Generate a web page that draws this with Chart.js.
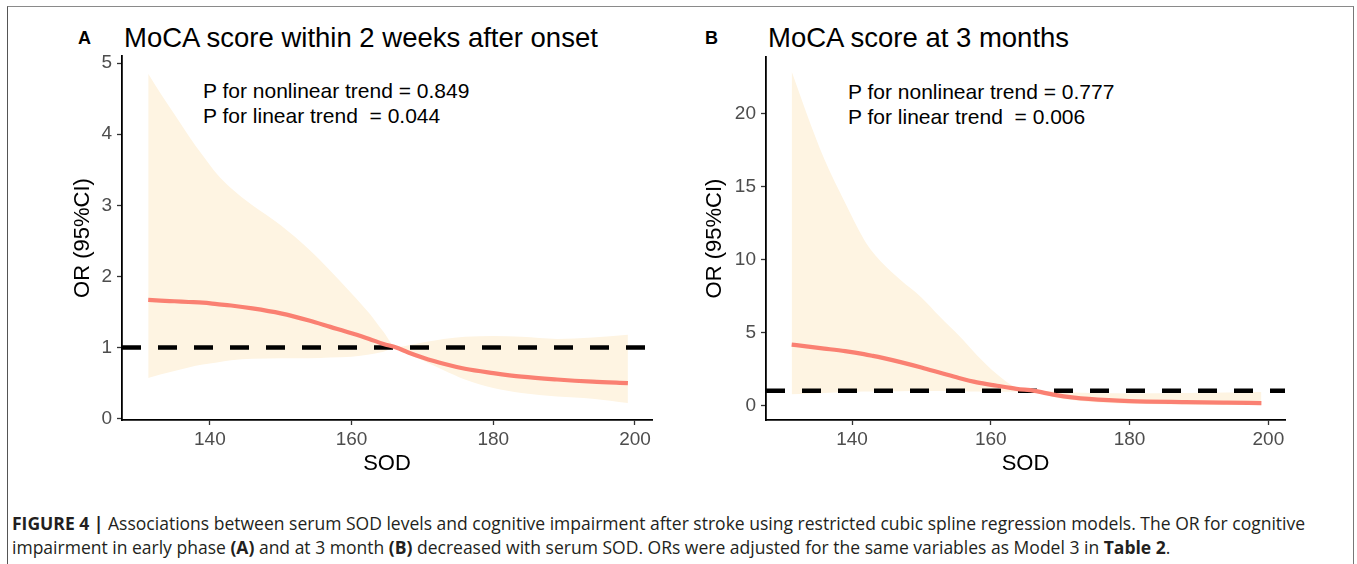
<!DOCTYPE html>
<html>
<head>
<meta charset="utf-8">
<script src="https://cdn.jsdelivr.net/npm/chart.js@4"></script>
<style>
  html, body { margin: 0; padding: 0; background: #fff; }
  body { width: 1357px; height: 564px; position: relative; overflow: hidden; font-family: "Liberation Sans", Arial, sans-serif; }
  #frame { position: absolute; left: 7px; top: 6px; width: 1347px; height: 570px; border-top: 1.5px solid #8a8a8a; border-left: 1.5px solid #555; border-right: 1.5px solid #777; box-sizing: border-box; }
  .cv { position: absolute; }
  .letter { position: absolute; font-weight: bold; font-size: 18px; color: #000; line-height: 1; }
  .ptitle { position: absolute; font-size: 27.5px; color: #000; line-height: 1; white-space: nowrap; }
  .annot { position: absolute; font-size: 21px; color: #000; line-height: 25px; white-space: pre; }
  #caption { position: absolute; left: 12px; top: 511px; font-family: "Open Sans", "Liberation Sans", sans-serif; font-size: 15.5px; line-height: 24px; color: #231f20; white-space: nowrap; }
</style>
</head>
<body>
<div id="frame"></div>

<div class="letter" style="left:78px; top:29px;">A</div>
<div class="ptitle" style="left:124px; top:24px;">MoCA score within 2 weeks after onset</div>
<div class="annot" style="left:203px; top:78px;">P for nonlinear trend = 0.849
P for linear trend  = 0.044</div>

<div class="letter" style="left:705px; top:29px;">B</div>
<div class="ptitle" style="left:768px; top:24px;">MoCA score at 3 months</div>
<div class="annot" style="left:848px; top:79px;">P for nonlinear trend = 0.777
P for linear trend  = 0.006</div>

<canvas id="chartA" class="cv" style="left:0px; top:0px;" width="680" height="490"></canvas>
<canvas id="chartB" class="cv" style="left:690px; top:0px;" width="620" height="490"></canvas>

<div id="caption"><span id="capLine1"><b>FIGURE 4 |</b> Associations between serum SOD levels and cognitive impairment after stroke using restricted cubic spline regression models. The OR for cognitive</span><br>impairment in early phase <b>(A)</b> and at 3 month <b>(B)</b> decreased with serum SOD. ORs were adjusted for the same variables as Model 3 in <b>Table 2</b>.</div>

<script>
// ---- Panel A: MoCA score within 2 weeks after onset ----
const sodA   = [131.3, 133, 135, 137, 139, 141, 143, 146, 150, 154, 157, 160, 162.5, 164.5, 166.3, 168, 170, 173, 176, 180, 184, 189, 194, 199];
const orA    = [1.67, 1.66, 1.65, 1.64, 1.63, 1.61, 1.59, 1.55, 1.48, 1.38, 1.29, 1.20, 1.12, 1.05, 1.00, 0.93, 0.86, 0.77, 0.70, 0.64, 0.59, 0.55, 0.52, 0.50];
const upperA = [4.85, 4.58, 4.28, 3.98, 3.70, 3.44, 3.24, 3.00, 2.72, 2.38, 2.08, 1.76, 1.48, 1.22, 1.00, 1.03, 1.07, 1.12, 1.15, 1.16, 1.15, 1.12, 1.14, 1.18];
const lowerA = [0.57, 0.62, 0.67, 0.72, 0.76, 0.79, 0.82, 0.84, 0.85, 0.85, 0.86, 0.87, 0.90, 0.94, 1.00, 0.90, 0.82, 0.68, 0.55, 0.43, 0.36, 0.31, 0.28, 0.22];
const yTicksA = [0, 1, 2, 3, 4, 5];

// ---- Panel B: MoCA score at 3 months ----
const sodB   = [131.3, 133.4, 136, 139, 141.7, 143, 144.4, 147, 150, 152.7, 155.4, 158, 160.9, 163.7, 166.3, 169, 172, 177, 180, 188, 194, 199];
const orB    = [4.17, 4.05, 3.90, 3.72, 3.52, 3.40, 3.26, 2.97, 2.60, 2.24, 1.88, 1.58, 1.35, 1.14, 1.00, 0.74, 0.54, 0.36, 0.30, 0.23, 0.19, 0.16];
const upperB = [22.9, 20.1, 16.9, 13.9, 11.4, 10.5, 9.75, 8.6, 7.4, 6.06, 4.79, 3.45, 2.14, 1.22, 1.00, 0.95, 0.88, 0.83, 0.82, 0.85, 0.88, 0.92];
const lowerB = [0.76, 0.80, 0.86, 0.92, 0.95, 0.96, 0.97, 0.98, 0.99, 0.99, 0.98, 0.96, 0.94, 0.96, 1.00, 0.58, 0.36, 0.17, 0.12, 0.05, 0.03, 0.02];
const yTicksB = [0, 5, 10, 15, 20];

const xTicks = [140, 160, 180, 200];
const refOR = 1;

const LINE_COLOR = '#FA8072';
const BAND_COLOR = 'rgb(254,244,226)';
const TICK_COLOR = '#4d4d4d';

function pts(xs, ys) { return xs.map((x, i) => ({ x: x, y: ys[i] })); }

function makeChart(id, xs, ors, ups, lows, yTicks, cfg) {
  const ctx = document.getElementById(id);
  return new Chart(ctx, {
    type: 'line',
    data: {
      datasets: [
        { label: 'lower', data: pts(xs, lows), borderWidth: 0, pointRadius: 0, fill: false, backgroundColor: BAND_COLOR, borderColor: 'rgba(0,0,0,0)', cubicInterpolationMode: 'monotone', order: 3 },
        { label: 'upper', data: pts(xs, ups), borderWidth: 0, pointRadius: 0, fill: '-1', backgroundColor: BAND_COLOR, borderColor: 'rgba(0,0,0,0)', cubicInterpolationMode: 'monotone', order: 3 },
        { label: 'ref', data: [{ x: cfg.xmin, y: refOR }, { x: cfg.xmax, y: refOR }], borderColor: '#000', borderWidth: 4.5, borderDash: [19, 17], pointRadius: 0, fill: false, order: 2 },
        { label: 'OR', data: pts(xs, ors), borderColor: LINE_COLOR, borderWidth: 4.2, pointRadius: 0, fill: false, cubicInterpolationMode: 'monotone', order: 1 }
      ]
    },
    options: {
      responsive: false,
      animation: false,
      events: [],
      layout: { padding: cfg.padding },
      plugins: { legend: { display: false }, tooltip: { enabled: false }, title: { display: false } },
      scales: {
        x: {
          type: 'linear', min: cfg.xmin, max: cfg.xmax,
          afterBuildTicks: (s) => { s.ticks = xTicks.map(v => ({ value: v })); },
          afterFit: (s) => { s.height = cfg.xh; },
          grid: { display: true, drawOnChartArea: false, drawTicks: true, tickLength: 5, tickWidth: 1.3, color: '#333' },
          border: { display: true, color: '#000', width: 1.8 },
          ticks: { color: TICK_COLOR, font: { family: 'Liberation Sans', size: 19 }, padding: 3, maxRotation: 0 },
          title: { display: true, text: 'SOD', color: '#000', font: { family: 'Liberation Sans', size: 22 }, padding: 0 }
        },
        y: {
          type: 'linear', min: cfg.ymin, max: cfg.ymax,
          afterBuildTicks: (s) => { s.ticks = yTicks.map(v => ({ value: v })); },
          afterFit: (s) => { s.width = cfg.yw; },
          grid: { display: true, drawOnChartArea: false, drawTicks: true, tickLength: 5, tickWidth: 1.3, color: '#333' },
          border: { display: true, color: '#000', width: 1.8 },
          ticks: { color: TICK_COLOR, font: { family: 'Liberation Sans', size: 19 }, padding: 5 },
          title: { display: true, text: 'OR (95%CI)', color: '#000', font: { family: 'Liberation Sans', size: 22 }, padding: 0 }
        }
      }
    }
  });
}

makeChart('chartA', sodA, orA, upperA, lowerA, yTicksA, {
  xmin: 127.6, xmax: 202.4, ymin: -0.02, ymax: 5.1,
  padding: { left: 70, top: 56, right: 28, bottom: 13 }, yw: 52, xh: 57
});
makeChart('chartB', sodB, orB, upperB, lowerB, yTicksB, {
  xmin: 127.6, xmax: 202.4, ymin: -1.0, ymax: 23.9,
  padding: { left: 12, top: 57, right: 25, bottom: 13 }, yw: 64, xh: 57
});

// fit caption so its first line spans the same width as in the figure
(function fitCaption() {
  const cap = document.getElementById('caption');
  const l1 = document.getElementById('capLine1');
  const target = 1293;
  let size = 15.5;
  for (let i = 0; i < 4; i++) {
    const w = l1.getBoundingClientRect().width;
    size = size * target / w;
    cap.style.fontSize = size.toFixed(2) + 'px';
  }
})();
</script>
</body>
</html>
